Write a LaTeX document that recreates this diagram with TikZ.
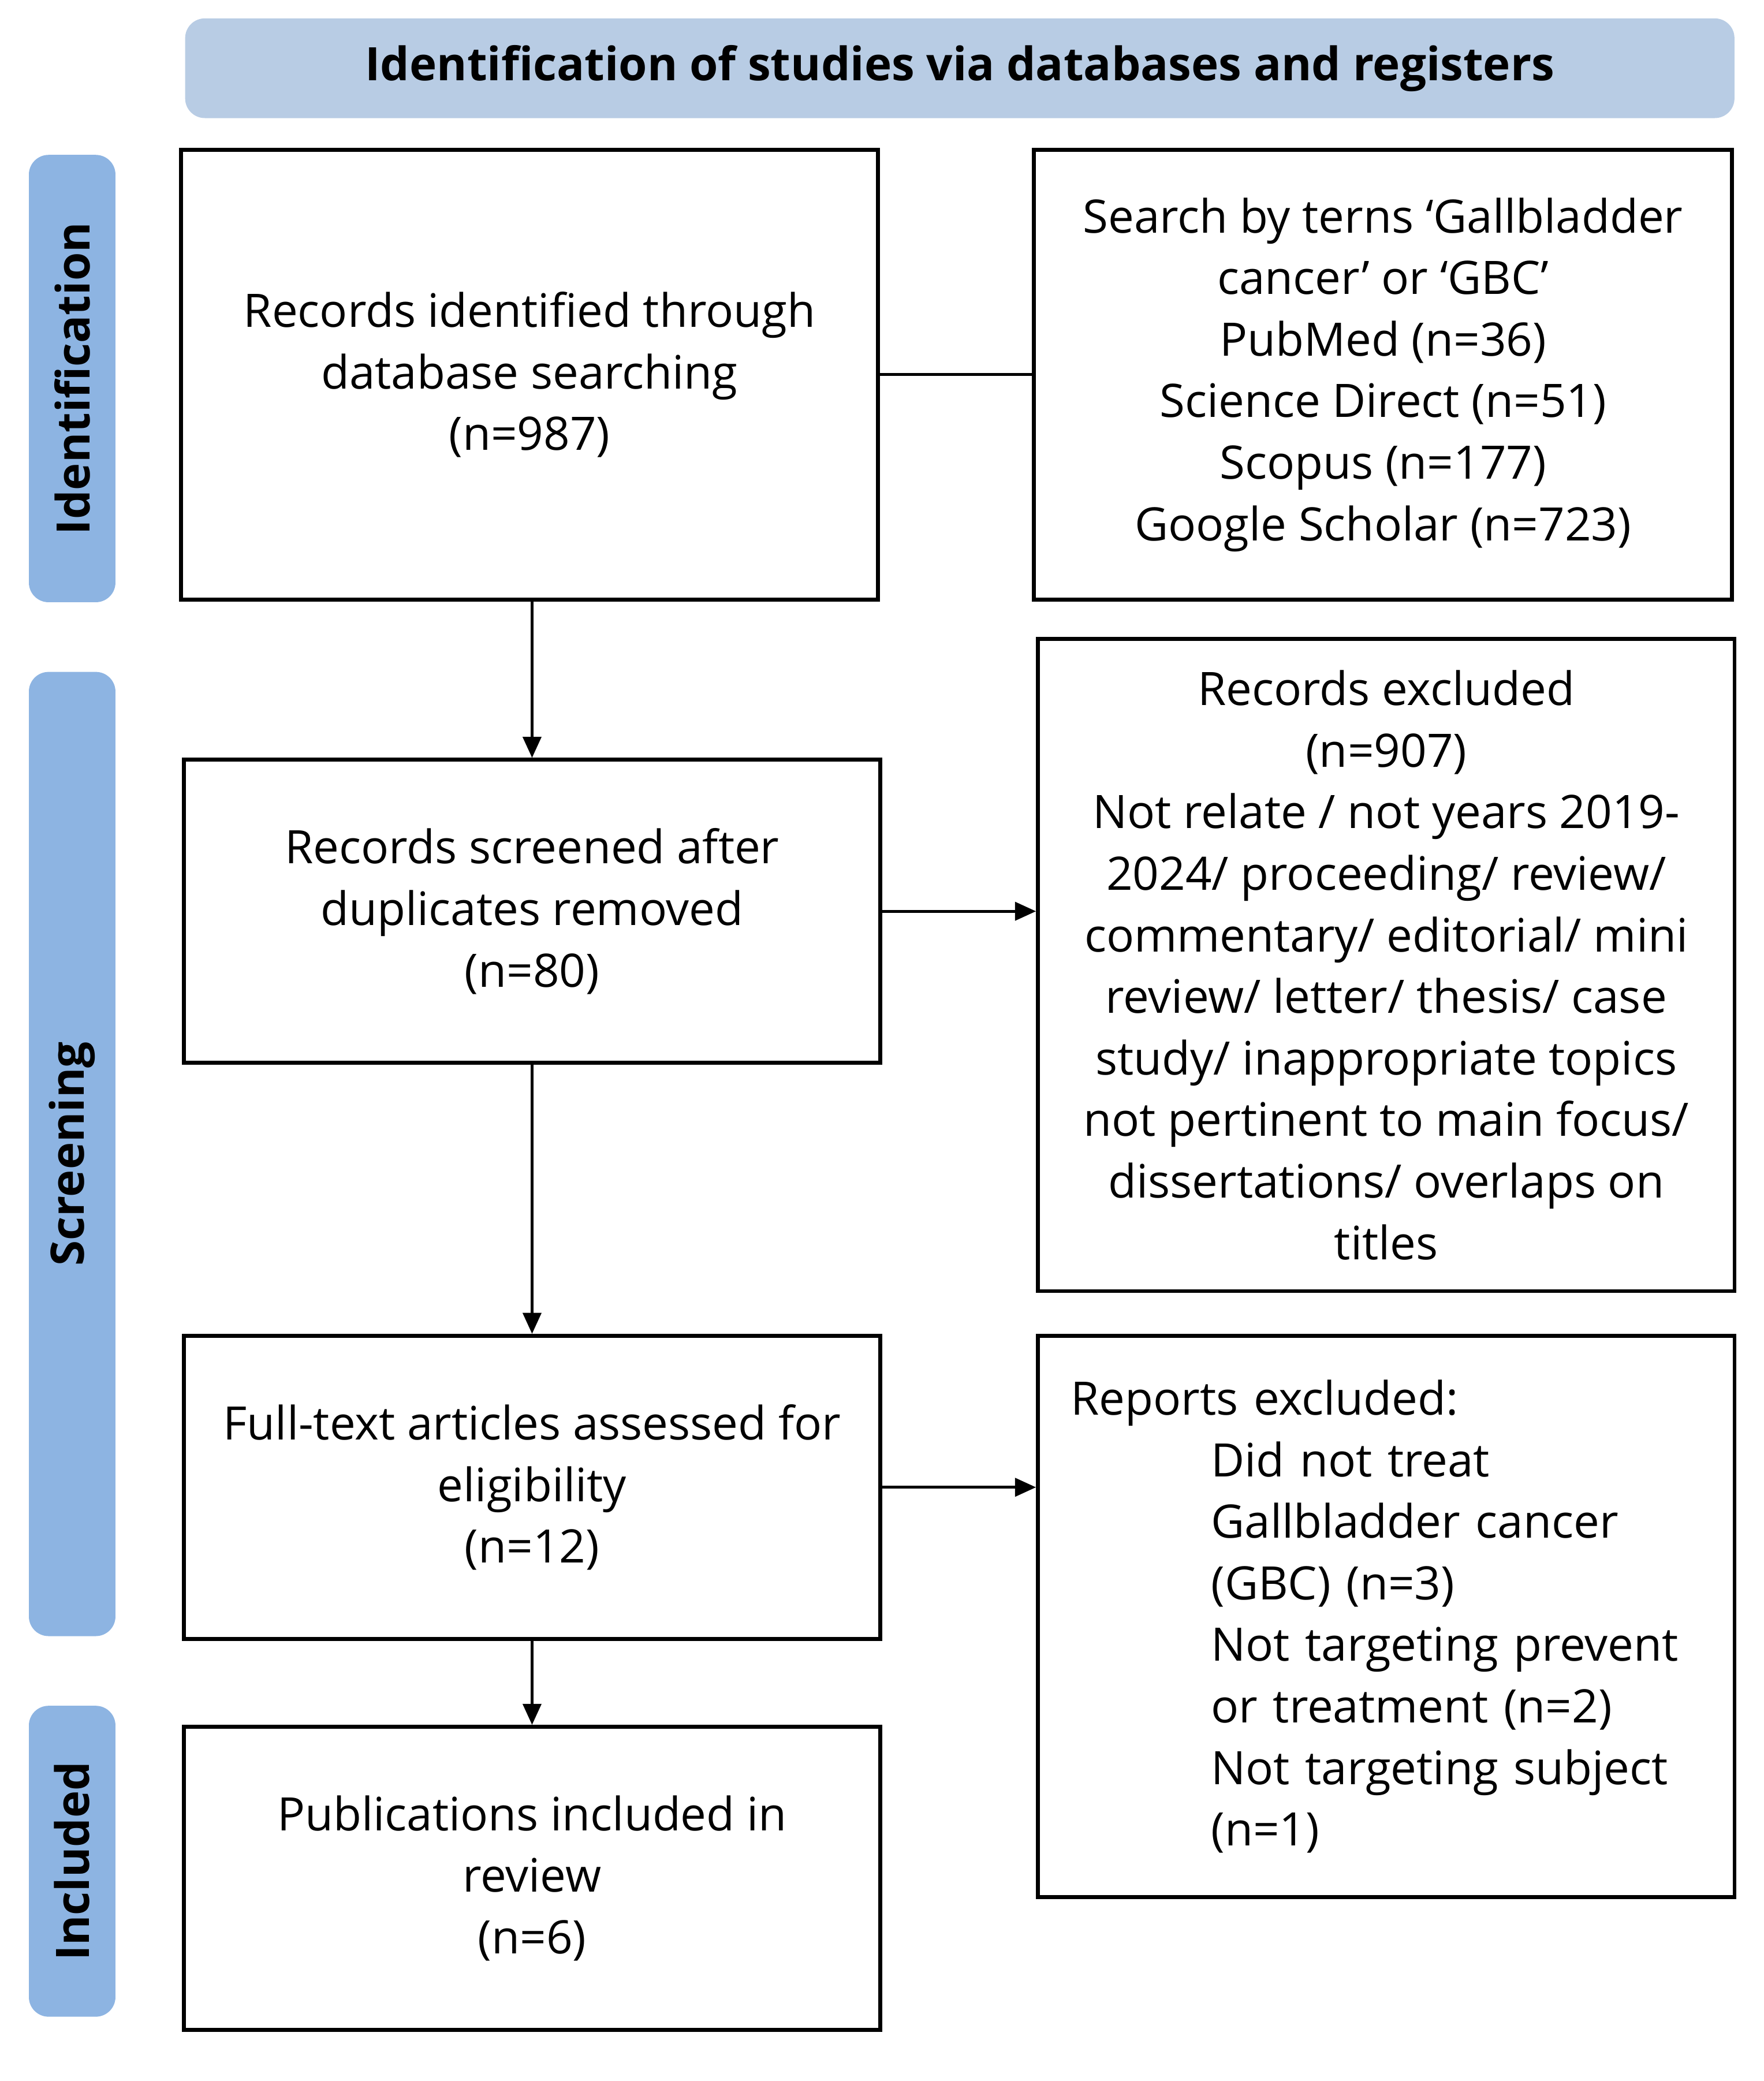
\documentclass[tikz,border=0pt]{standalone}
\usepackage{fontspec}
\setmainfont{Open Sans}
\usetikzlibrary{arrows.meta}
\definecolor{hdr}{RGB}{184,204,228}
\definecolor{side}{RGB}{141,180,226}
\begin{document}
\begin{tikzpicture}[x=0.02cm,y=-0.02cm,
  box/.style={draw=black,line width=1.7pt,minimum width=10.62cm,align=center,inner sep=0pt,font=\fontsize{20}{26.7}\selectfont},
  sidebar/.style={fill=side,rounded corners=0.3cm,minimum width=1.32cm,inner sep=0pt,font=\bfseries\fontsize{20}{24}\selectfont},
  conn/.style={line width=1.2pt},
  arr/.style={conn,-{Triangle[length=0.32cm,width=0.28cm]}}]
\useasboundingbox (0,0) rectangle (1344,1586);
\node[fill=hdr,rounded corners=0.3cm,minimum width=23.62cm,minimum height=1.52cm,font=\bfseries\fontsize{20}{24}\selectfont] (hdr) at (731.5,52) {Identification of studies via databases and registers};
\node[sidebar,minimum height=6.82cm] (s1) at (55,288.5) {};
\node[rotate=90,font=\bfseries\fontsize{20}{24}\selectfont] (t1) at (55,288.5) {Identification};
\node[sidebar,minimum height=14.7cm] (s2) at (55,879.5) {};
\node[rotate=90,font=\bfseries\fontsize{20}{24}\selectfont] (t2) at (55,879.5) {Screening};
\node[sidebar,minimum height=4.74cm] (s3) at (55,1418.5) {};
\node[rotate=90,font=\bfseries\fontsize{20}{24}\selectfont] (t3) at (55,1418.5) {Included};
\node[box,minimum height=6.86cm] (A) at (403.5,285.5) {Records identified through\\database searching\\(n=987)};
\node[box,minimum width=10.64cm,minimum height=6.86cm] (B) at (1054,285.5) {Search by terns ‘Gallbladder\\cancer’ or ‘GBC’\\PubMed (n=36)\\Science Direct (n=51)\\Scopus (n=177)\\Google Scholar (n=723)};
\node[box,minimum height=4.62cm] (C) at (405.5,694.5) {Records screened after\\duplicates removed\\(n=80)};
\node[box,minimum height=9.94cm] (D) at (1056.5,735.5) {Records excluded\\(n=907)\\Not relate / not years 2019-\\2024/ proceeding/ review/\\commentary/ editorial/ mini\\review/ letter/ thesis/ case\\study/ inappropriate topics\\not pertinent to main focus/\\dissertations/ overlaps on\\titles};
\node[box,minimum height=4.62cm] (E) at (405.5,1133.5) {Full-text articles assessed for\\eligibility\\(n=12)};
\node[box,minimum height=8.56cm,align=left,text width=9.62cm] (F) at (1056.5,1232) {Reports excluded:\\\hspace*{2.14cm}Did not treat\\\hspace*{2.14cm}Gallbladder cancer\\\hspace*{2.14cm}(GBC) (n=3)\\\hspace*{2.14cm}Not targeting prevent\\\hspace*{2.14cm}or treatment (n=2)\\\hspace*{2.14cm}Not targeting subject\\\hspace*{2.14cm}(n=1)};
\node[box,minimum height=4.62cm] (G) at (405.5,1431.5) {Publications included in\\review\\(n=6)};
\draw[conn] (A.east) -- (B.west);
\draw[arr] (A.south -| C.north) -- (C.north);
\draw[arr] (C.east) -- (C.east -| D.west);
\draw[arr] (C.south) -- (E.north);
\draw[arr] (E.east) -- (E.east -| F.west);
\draw[arr] (E.south) -- (G.north);
\end{tikzpicture}
\end{document}
